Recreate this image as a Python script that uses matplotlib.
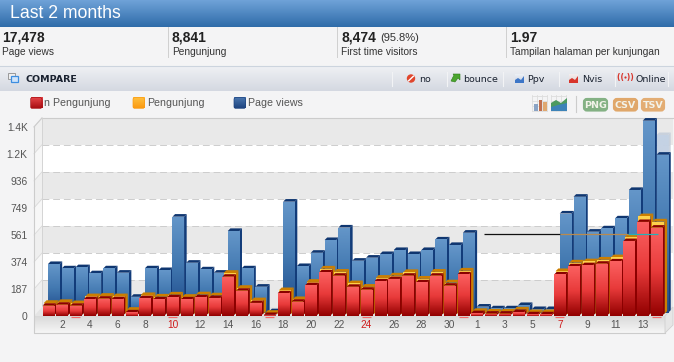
import numpy as np
import matplotlib
matplotlib.use("Agg")
import matplotlib.pyplot as plt
from matplotlib.patches import Rectangle, Polygon, FancyBboxPatch, Circle
from matplotlib.colors import LinearSegmentedColormap

# ---------- data ----------
days = list(range(1, 32)) + list(range(1, 15))
new_visitors = [69, 76, 69, 115, 118, 115, 23, 122, 113, 127, 113, 127, 122, 270, 173, 88, 5, 155, 97, 212,
                300, 277, 200, 180, 238, 254, 277, 231, 277, 208, 286,
                18, 14, 14, 25, 10, 10, 286, 342, 350, 360, 376, 517, 649, 610]
visitors = [76, 82, 74, 122, 125, 122, 28, 130, 120, 134, 118, 135, 128, 284, 180, 94, 7, 164, 102, 222,
            314, 292, 212, 188, 250, 266, 290, 244, 292, 218, 300,
            20, 16, 16, 30, 12, 12, 296, 356, 364, 376, 392, 534, 676, 640]
page_views = [337, 307, 315, 273, 307, 277, 110, 307, 295, 665, 346, 300, 277, 566, 307, 180, 10, 769, 323, 415,
              503, 590, 360, 381, 406, 434, 406, 434, 507, 469, 554,
              42, 30, 30, 53, 25, 25, 687, 803, 561, 584, 653, 850, 1330, 1094]
ghost_value = 1230
weekend_idx = [2, 9, 16, 23, 30, 37, 44]
red_labels = {9, 23, 37}
y_ticks = [0, 187, 374, 561, 749, 936, 1124, 1311]
y_labels = ['0', '187', '374', '561', '749', '936', '1.2K', '1.4K']
crosshair_value = 566
crosshair_idx = [31.5, 37.0, 41.9, 44.1]
crosshair_cols = ['#111111', '#b98a4e', '#25b0b8']

W, H = 674, 362
PX = 13.83          # pixels per day
PY = 27 / 187       # pixels per unit
X0 = 48.2           # pixel of label position of first day
Y0 = 316.0          # pixel of value 0
SANS = 'Liberation Sans'

fig = plt.figure(figsize=(W / 100, H / 100), dpi=100, facecolor='#f4f4f5')

# ---------- page chrome, in pixel coordinates ----------
bg = fig.add_axes([0, 0, 1, 1], zorder=0)
bg.set_xlim(0, W)
bg.set_ylim(H, 0)
bg.axis('off')


def grad(x0, x1, y0, y1, c0, c1, z=1):
    cm = LinearSegmentedColormap.from_list('g', [c0, c1])
    bg.imshow(np.linspace(0, 1, 64)[:, None], extent=(x0, x1, y1, y0), aspect='auto', cmap=cm, zorder=z,
              interpolation='bilinear')
    bg.set_xlim(0, W)
    bg.set_ylim(H, 0)


def txt(x, y, s, size=7.4, color='#222222', weight='normal', family=SANS, ha='left', z=6):
    bg.text(x, y, s, fontsize=size, color=color, fontweight=weight, family=family, ha=ha, va='center', zorder=z)


grad(0, W, 0, 27, '#6fa2d8', '#2f6ca9')
txt(10, 13.5, 'Last 2 months', size=12.7, color='white')
for x in (168, 337, 506):
    bg.plot([x, x], [27, 57], color='#cfcfcf', lw=0.7, zorder=2)
stats = [(2, '17,478', 'Page views'), (172, '8,841', 'Pengunjung'),
         (341, '8,474', 'First time visitors'), (510, '1.97', 'Tampilan halaman per kunjungan')]
for x, a, b in stats:
    txt(x, 37.5, a, size=10, weight='bold')
    txt(x, 52, b, size=7.3, color='#333333')
txt(380, 38, '(95.8%)', size=8, color='#333333')

grad(0, W, 66, 91, '#eff1f4', '#d4d8e1')
bg.plot([0, W], [66, 66], color='#ccd4de', lw=0.8, zorder=2)
bg.add_patch(Rectangle((8, 73), 7, 6, fc='#eeeeee', ec='#999999', lw=0.7, zorder=3))
bg.add_patch(Rectangle((11, 76), 7, 6, fc='#cfe4fb', ec='#3d8ee0', lw=0.9, zorder=3))
txt(26, 79.5, 'COMPARE', size=6.8, weight='bold', family='DejaVu Sans', color='#1a2230')
for x in (392, 447, 503, 559, 615, 668):
    bg.plot([x, x], [72, 86], color='#f2f3f5', lw=0.8, zorder=2)
for x, s in ((419, 'no'), (463, 'bounce'), (527, 'Ppv'), (582, 'Nvis'), (636, 'Online')):
    txt(x, 79.5, s, size=6.8, family='DejaVu Sans', color='#1a2230')
# small toolbar icons
bg.add_patch(Circle((411, 78.5), 4.2, fc='#e0452c', ec='none', zorder=3))
bg.plot([408.6, 413.4], [80.8, 76.2], color='white', lw=1.0, zorder=4)
bg.add_patch(Polygon([(451, 81), (454, 75), (453, 74), (460, 74), (460, 80), (458, 78), (455, 82)],
                     fc='#4aa52e', ec='#2d7a18', lw=0.4, zorder=3))
grad(515, 524, 74, 83, '#eef1f6', '#c5cfe0', z=3)
bg.add_patch(Polygon([(515, 83), (515, 80), (518, 78), (521, 80), (524, 76), (524, 83)], fc='#3d76c7', zorder=4))
grad(569, 578, 74, 83, '#f4eeee', '#ddcfcf', z=3)
bg.add_patch(Polygon([(569, 83), (569, 80), (572, 78), (575, 80), (578, 76), (578, 83)], fc='#d8352b', zorder=4))
txt(625.5, 77.5, '(( ))', size=5.6, color='#d8352b', weight='bold', family='DejaVu Sans', ha='center')
bg.add_patch(Circle((625.5, 77.5), 1.1, fc='#d8352b', ec='none', zorder=6))

# legend
for x, c0, c1, label, tx in ((30, '#e8474a', '#a80f14', 'n Pengunjung', 44),
                             (132.5, '#ffc13f', '#fb9a12', 'Pengunjung', 147),
                             (233.5, '#4b78b0', '#1f4480', 'Page views', 248)):
    grad(x + 0.5, x + 12, 97.5, 108.5, c0, c1, z=3)
    bg.add_patch(FancyBboxPatch((x + 1.5, 98.5), 9.5, 9, boxstyle='round,pad=1,rounding_size=2', fc='none',
                                ec=c1, lw=0.5, zorder=4))
    txt(tx, 103, label, size=7.7, color='#555555')

# export buttons and chart-type icons
bg.plot([576, 576], [96, 112], color='#cccccc', lw=0.8, zorder=2)
for x, w, c, s in ((583, 25, '#84b184', 'PNG'), (613, 25, '#e0a76a', 'CSV'), (641, 24, '#e3ad74', 'TSV')):
    bg.add_patch(FancyBboxPatch((x + 2, 100), w - 4, 9.5, boxstyle='round,pad=0,rounding_size=2', fc=c, ec=c, lw=3,
                                zorder=3))
    txt(x + w / 2, 105, s, size=6.8, color='#f3f3ea', weight='bold', family='DejaVu Sans', ha='center')
for i in range(4):
    bg.plot([532 + 5 * i] * 2, [95, 111], color='#dddddd', lw=0.6, zorder=2)
    bg.plot([551 + 5 * i] * 2, [95, 111], color='#dddddd', lw=0.6, zorder=2)
    bg.plot([532, 547], [96 + 5 * i] * 2, color='#dddddd', lw=0.6, zorder=2)
    bg.plot([551, 566], [96 + 5 * i] * 2, color='#dddddd', lw=0.6, zorder=2)
bg.bar([536, 540.5, 545], [-7, -11, -9], width=3.5, bottom=[111, 111, 111], color=['#8aa3c4', '#c07050', '#e0a870'], zorder=3)
bg.add_patch(Polygon([(551, 111), (551, 103), (556, 100), (561, 103), (567, 98), (567, 111)], fc='#4c9a60', zorder=3))
bg.add_patch(Polygon([(551, 111), (551, 107), (558, 105), (567, 103), (567, 111)], fc='#3d83b8', zorder=4))

# ---------- 3D frame of the chart ----------
WX, WY = 8, 9   # depth of the back wall in pixels
tick_px = [Y0 - v * PY for v in y_ticks]
wall_top = 118
edges = [tick_px[0] - WY] + [p - WY for p in tick_px[1:]] + [wall_top]
for i in range(len(edges) - 1):
    colour = '#e9e9e9' if i % 2 == 0 else '#ffffff'
    bg.add_patch(Rectangle((34 + WX, edges[i + 1]), W - 1 - 34 - WX, edges[i] - edges[i + 1], fc=colour, ec='none', zorder=1))
    side = '#efefef' if i % 2 == 0 else '#f7f7f7'
    bg.add_patch(Polygon([(34, edges[i] + WY), (34 + WX, edges[i]), (34 + WX, edges[i + 1]), (34, edges[i + 1] + WY)],
                         fc=side, ec='none', zorder=1))
for e in edges[1:-1]:
    bg.plot([34 + WX, W - 1], [e, e], color='#cdcdcd', lw=0.7, dashes=(7, 4), zorder=2)
    bg.plot([34, 34 + WX], [e + WY, e], color='#dadada', lw=0.6, zorder=2)
bg.plot([34 + WX, W - 1], [wall_top, wall_top], color='#cccccc', lw=0.8, zorder=2)
bg.plot([34 + WX, 34 + WX], [wall_top, Y0 - WY], color='#d4d4d4', lw=0.7, zorder=2)
bg.plot([34, 34 + WX], [wall_top + WY, wall_top], color='#cccccc', lw=0.7, zorder=2)
bg.add_patch(Polygon([(34, Y0), (34 + WX, Y0 - WY), (W - 1, Y0 - WY), (W - 9, Y0)], fc='#e4e4e4', ec='none', zorder=2))
grad(34, W - 9, Y0, 333, '#d9d9d9', '#f6f6f6', z=2)
bg.add_patch(Polygon([(W - 9, Y0), (W - 1, Y0 - WY), (W - 1, Y0 + 9), (W - 9, 333)], fc='#e6e6e6', ec='#d0d0d0', lw=0.6, zorder=2))
bg.plot([34, 34, W - 9], [wall_top + WY, 333, 333], color='#cccccc', lw=0.8, zorder=3)

# ---------- chart axes ----------
ax = fig.add_axes([34 / W, 1 - Y0 / H, (W - 34) / W, (Y0 - 114) / H], zorder=1, facecolor='none')
ax.set_xlim((34 - X0) / PX, (W - X0) / PX)
ax.set_ylim(0, (Y0 - 114) / PY)
for s in ax.spines.values():
    s.set_visible(False)
idx = np.arange(len(days))


def bars3d(values, dx_px, dy_px, width_px, depth_px, colours, c_depth, c_depth_top, z, alpha=1.0, x_idx=None):
    cm = LinearSegmentedColormap.from_list('b', colours)
    xs = idx if x_idx is None else x_idx
    w = width_px / PX
    base = dy_px / PY
    dx = dx_px / PX
    ddx, ddy = depth_px / PX, depth_px / PY
    for n, (i, v) in enumerate(zip(xs, values)):
        zz = z + n * 0.001
        left = i + dx - w / 2
        top = base + v
        ax.add_patch(Polygon([(left + w, base), (left + w, top), (left + w + ddx, top + ddy), (left + w + ddx, base + ddy)],
                             fc=c_depth, ec='none', alpha=alpha, zorder=zz))
        ax.add_patch(Polygon([(left, top), (left + w, top), (left + w + ddx, top + ddy), (left + ddx, top + ddy)],
                             fc=c_depth_top, ec='none', alpha=alpha, zorder=zz))
        rect = ax.bar(i + dx, v, width=w, bottom=base, color=colours[-1], alpha=alpha, zorder=zz)[0]
        im = ax.imshow(np.linspace(0, 1, 64)[:, None], extent=(left, left + w, base, top), aspect='auto', cmap=cm,
                       zorder=zz + 0.0001, alpha=alpha, interpolation='bilinear', origin='upper')
        im.set_clip_path(rect)


# translucent hover shadow behind the last day's bar
bars3d([ghost_value], 5.6, 3.3, 11.6, 2.6, ['#c4d2e4', '#c4d2e4'], '#c4cdda', '#c4cdda', 2, alpha=0.85, x_idx=[idx[-1]])
bars3d(page_views, 5.6, 3.3, 11.6, 2.6, ['#6496c9', '#4278b0', '#1d4a8a'], '#123c7a', '#0f3670', 3)
bars3d(visitors, 1.6, 2.0, 12, 2.8, ['#ffd24e', '#e09a10'], '#cc7e00', '#cc7e00', 4)
bars3d(new_visitors, 0, 0.4, 11.2, 2.4, ['#fb6060', '#e83a3a', '#920000'], '#8c0000', '#8a0000', 5)

# crosshair
for i, c in enumerate(crosshair_cols):
    ax.plot(crosshair_idx[i:i + 2], [crosshair_value] * 2, color=c, lw=0.9, zorder=7, solid_capstyle='butt')

# weekend markers
for i in weekend_idx:
    ax.plot([i - 0.33, i + 0.33], [-1.2 / PY] * 2, color='#f46a6a', lw=0.9, clip_on=False, zorder=8, solid_capstyle='butt')

# axes labels
tick_idx = list(range(1, 31, 2)) + list(range(31, 45, 2))
ax.set_xticks(tick_idx)
ax.set_xticklabels([str(days[i]) for i in tick_idx], fontsize=7.3, family=SANS, color='#555555')
for lab, i in zip(ax.get_xticklabels(), tick_idx):
    if i in red_labels:
        lab.set_color('#d01c1c')
ax.set_yticks(y_ticks)
ax.set_yticklabels(y_labels, fontsize=7.4, family=SANS, color='#555555')
ax.tick_params(axis='both', length=0)
ax.tick_params(axis='x', pad=3)
ax.tick_params(axis='y', pad=4.5)

fig.savefig('out.png', dpi=100, facecolor=fig.get_facecolor())
